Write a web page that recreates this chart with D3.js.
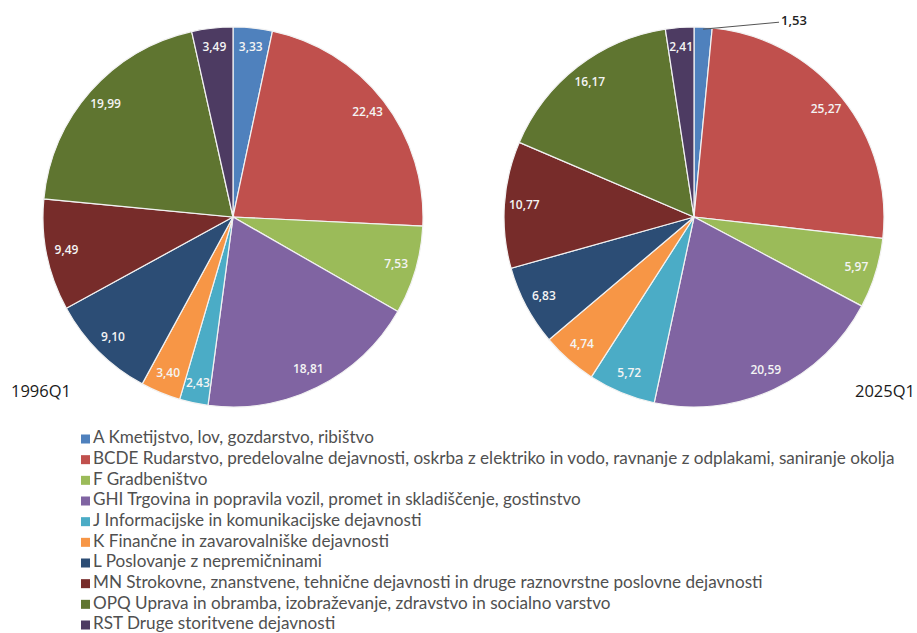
<!DOCTYPE html>
<html>
<head>
<meta charset="utf-8">
<script src="https://cdn.jsdelivr.net/npm/d3@7"></script>
<style>
  html, body { margin: 0; padding: 0; background: #fff; }
  svg { display: block; }
</style>
</head>
<body>
<svg id="chart" width="917" height="633"></svg>
<script>
const categories = [
  "A Kmetijstvo, lov, gozdarstvo, ribištvo",
  "BCDE Rudarstvo, predelovalne dejavnosti, oskrba z elektriko in vodo, ravnanje z odplakami, saniranje okolja",
  "F Gradbeništvo",
  "GHI Trgovina in popravila vozil, promet in skladiščenje, gostinstvo",
  "J Informacijske in komunikacijske dejavnosti",
  "K Finančne in zavarovalniške dejavnosti",
  "L Poslovanje z nepremičninami",
  "MN Strokovne, znanstvene, tehnične dejavnosti in druge raznovrstne poslovne dejavnosti",
  "OPQ Uprava in obramba, izobraževanje, zdravstvo in socialno varstvo",
  "RST Druge storitvene dejavnosti"
];
const values1996 = [3.33, 22.43, 7.53, 18.81, 2.43, 3.40, 9.10, 9.49, 19.99, 3.49];
const values2025 = [1.53, 25.27, 5.97, 20.59, 5.72, 4.74, 6.83, 10.77, 16.17, 2.41];
const periods = ["1996Q1", "2025Q1"];
const colors = ["#4F81BD", "#C0504D", "#9BBB59", "#8064A2", "#4BACC6", "#F79646", "#2C4D75", "#772C2A", "#5F7530", "#4D3B62"];

const svg = d3.select("#chart");
const color = d3.scaleOrdinal().domain(categories).range(colors);
const fmt = v => d3.format(".2f")(v).replace(".", ",");

const pie = d3.pie().sort(null).value(d => d.value);
const R = 190;
const arc = d3.arc().innerRadius(0).outerRadius(R);
const labelArc = d3.arc().innerRadius(170).outerRadius(170);

function drawPie(values, cx, cy, outsideSmall) {
  const data = categories.map((c, i) => ({ cat: c, value: values[i] }));
  const g = svg.append("g").attr("transform", `translate(${cx},${cy})`);
  const arcs = pie(data);
  g.selectAll("path").data(arcs).join("path")
    .attr("d", arc)
    .attr("fill", d => color(d.data.cat))
    .attr("stroke", "#f2f2f2")
    .attr("stroke-width", 1.2);
  arcs.forEach((d, i) => {
    const isOut = outsideSmall && d.data.value < 2;
    if (isOut) {
      const mid = (d.startAngle + d.endAngle) / 2;
      const x0 = Math.sin(mid) * (R - 2), y0 = -Math.cos(mid) * (R - 2);
      const x1 = x0 + 76, y1 = y0 - 7;
      g.append("line").attr("x1", x0).attr("y1", y0).attr("x2", x1).attr("y2", y1)
        .attr("stroke", "#555").attr("stroke-width", 1);
      g.append("text").attr("x", x1 + 2).attr("y", y1 - 1)
        .attr("dominant-baseline", "middle")
        .attr("font-family", "'Open Sans', sans-serif").attr("font-size", 13)
        .attr("font-weight", 600).attr("fill", "#222")
        .text(fmt(d.data.value));
    } else {
      const [x, y] = labelArc.centroid(d);
      g.append("text").attr("x", x).attr("y", y)
        .attr("text-anchor", "middle").attr("dominant-baseline", "middle")
        .attr("font-family", "'Open Sans', sans-serif").attr("font-size", 12)
        .attr("font-weight", 600).attr("fill", "#f4f4f4")
        .text(fmt(d.data.value));
    }
  });
}

drawPie(values1996, 233, 217, false);
drawPie(values2025, 694, 217, true);

svg.append("text").attr("x", 11).attr("y", 393).attr("dominant-baseline", "middle")
  .attr("font-family", "'Open Sans', sans-serif").attr("font-size", 16.5).attr("fill", "#1a1a1a")
  .text(periods[0]);
svg.append("text").attr("x", 915).attr("y", 393).attr("dominant-baseline", "middle")
  .attr("text-anchor", "end")
  .attr("font-family", "'Open Sans', sans-serif").attr("font-size", 16.5).attr("fill", "#1a1a1a")
  .text(periods[1]);

// Legend
const legend = svg.append("g");
const rowY = d3.scalePoint().domain(categories).range([439, 625]);
const items = legend.selectAll("g").data(categories).join("g")
  .attr("transform", d => `translate(0,${rowY(d)})`);
items.append("rect").attr("x", 81).attr("y", -4.5).attr("width", 9).attr("height", 9)
  .attr("fill", d => color(d));
const texts = items.append("text").attr("x", 93).attr("y", 0)
  .attr("dominant-baseline", "middle")
  .attr("font-family", "Lato, sans-serif").attr("font-size", 15).attr("fill", "#505050")
  .text(d => d);
// fit longest line to target width
const widest = d3.max(texts.nodes(), n => n.getComputedTextLength());
const targetW = 802;
texts.attr("font-size", 15 * targetW / widest);
</script>
</body>
</html>
